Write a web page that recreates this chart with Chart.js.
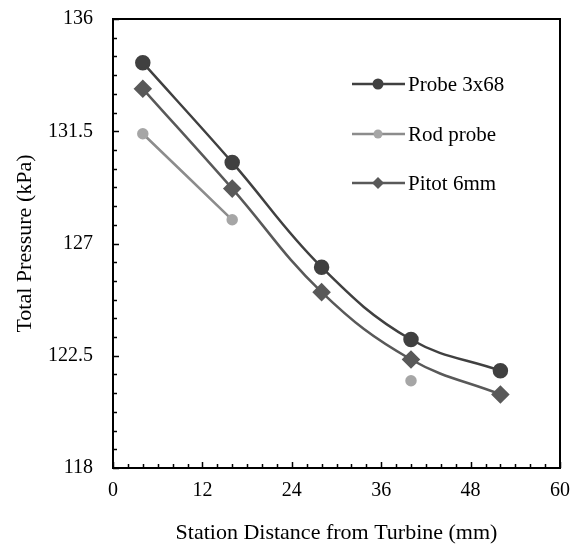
<!DOCTYPE html>
<html>
<head>
<meta charset="utf-8">
<script src="https://cdn.jsdelivr.net/npm/chart.js@4"></script>
<style>
  html, body { margin: 0; padding: 0; background: #fff; }
  #wrap { width: 578px; height: 546px; }
</style>
</head>
<body>
<div id="wrap"><canvas id="chart" width="578" height="546"></canvas></div>
<script>
const stations = [4, 16, 28, 40, 52];
const probe3x68 = [134.25, 130.25, 126.05, 123.15, 121.9];
const rodProbe = [131.4, 127.95, null, 121.5, null];
const pitot6mm = [133.2, 129.2, 125.05, 122.35, 120.95];
const seriesNames = ['Probe 3x68', 'Rod probe', 'Pitot 6mm'];

const FONT = 'Liberation Serif, "Times New Roman", serif';

function pairs(ys) {
    return stations.map((x, i) => ({ x: x, y: ys[i] }));
}

// inward tick marks, minor and major, plus the frame
const frameTicks = {
    id: 'frameTicks',
    afterDatasetsDraw(chart) {
        const ctx = chart.ctx;
        const a = chart.chartArea;
        const xs = chart.scales.x, ys = chart.scales.y;
        ctx.save();
        ctx.strokeStyle = '#000';
        ctx.lineWidth = 1.5;
        for (let v = 0; v <= 60; v += 2) {
            const px = Math.round(xs.getPixelForValue(v)) + 0.5;
            const len = v % 12 === 0 ? 6 : 4;
            ctx.beginPath();
            ctx.moveTo(px, a.bottom);
            ctx.lineTo(px, a.bottom - len);
            ctx.stroke();
        }
        for (let i = 0; i <= 24; i++) {
            const v = 118 + i * 0.75;
            const py = Math.round(ys.getPixelForValue(v)) + 0.5;
            const len = i % 6 === 0 ? 6 : 4;
            ctx.beginPath();
            ctx.moveTo(a.left, py);
            ctx.lineTo(a.left + len, py);
            ctx.stroke();
        }
        ctx.lineWidth = 2;
        ctx.strokeRect(a.left, a.top, a.right - a.left, a.bottom - a.top);
        ctx.restore();
    }
};

// legend drawn inside the plot, top right
const innerLegend = {
    id: 'innerLegend',
    afterDraw(chart) {
        const ctx = chart.ctx;
        const a = chart.chartArea;
        const x0 = a.left + 239, x1 = a.left + 292, mx = a.left + 265;
        const rows = [a.top + 65, a.top + 115, a.top + 164];
        ctx.save();
        chart.data.datasets.forEach((ds, i) => {
            const y = rows[i];
            ctx.strokeStyle = ds.borderColor;
            ctx.lineWidth = ds.borderWidth;
            ctx.beginPath();
            ctx.moveTo(x0, y);
            ctx.lineTo(x1, y);
            ctx.stroke();
            ctx.fillStyle = ds.pointBackgroundColor;
            ctx.beginPath();
            if (ds.pointStyle === 'rectRot') {
                const r = 6;
                ctx.moveTo(mx, y - r);
                ctx.lineTo(mx + r, y);
                ctx.lineTo(mx, y + r);
                ctx.lineTo(mx - r, y);
                ctx.closePath();
            } else {
                ctx.arc(mx, y, i === 0 ? 5.5 : 4.5, 0, Math.PI * 2);
            }
            ctx.fill();
            ctx.fillStyle = '#000';
            ctx.font = '21px ' + FONT;
            ctx.textBaseline = 'middle';
            ctx.textAlign = 'left';
            ctx.fillText(ds.label, x1 + 3, y + 1);
        });
        ctx.restore();
    }
};

new Chart(document.getElementById('chart'), {
    type: 'line',
    data: {
        datasets: [
            {
                label: seriesNames[0],
                data: pairs(probe3x68),
                borderColor: '#404040',
                backgroundColor: '#404040',
                pointBackgroundColor: '#404040',
                pointBorderColor: '#404040',
                borderWidth: 2.5,
                pointStyle: 'circle',
                pointRadius: 6.5,
                tension: 0.4
            },
            {
                label: seriesNames[1],
                data: pairs(rodProbe),
                borderColor: '#8c8c8c',
                backgroundColor: '#a6a6a6',
                pointBackgroundColor: '#a6a6a6',
                pointBorderColor: '#a6a6a6',
                borderWidth: 2.5,
                pointStyle: 'circle',
                pointRadius: 4.5,
                tension: 0.4
            },
            {
                label: seriesNames[2],
                data: pairs(pitot6mm),
                borderColor: '#595959',
                backgroundColor: '#595959',
                pointBackgroundColor: '#595959',
                pointBorderColor: '#595959',
                borderWidth: 2.5,
                pointStyle: 'rectRot',
                pointRadius: 7.5,
                tension: 0.4
            }
        ]
    },
    options: {
        responsive: false,
        animation: false,
        layout: { padding: { top: 19, right: 18, left: 0, bottom: 0 } },
        plugins: {
            legend: { display: false },
            tooltip: { enabled: false }
        },
        scales: {
            x: {
                type: 'linear',
                min: 0,
                max: 60,
                grid: { display: false, drawTicks: false },
                border: { display: false },
                ticks: {
                    stepSize: 12,
                    padding: 11,
                    color: '#000',
                    font: { family: FONT, size: 20 }
                },
                title: {
                    display: true,
                    text: 'Station Distance from Turbine (mm)',
                    color: '#000',
                    font: { family: FONT, size: 22 },
                    padding: { top: 10, bottom: 0 }
                },
                afterFit: s => {
                    s.height = 78;
                    s.paddingLeft = 0;
                    s.paddingRight = 0;
                }
            },
            y: {
                type: 'linear',
                min: 118,
                max: 136,
                grid: { display: false, drawTicks: false },
                border: { display: false },
                ticks: {
                    stepSize: 4.5,
                    padding: 20,
                    color: '#000',
                    font: { family: FONT, size: 20 }
                },
                title: {
                    display: true,
                    text: 'Total Pressure (kPa)',
                    color: '#000',
                    font: { family: FONT, size: 22 },
                    padding: { top: 12, bottom: 0 }
                },
                afterFit: s => {
                    s.width = 113;
                    s.paddingTop = 0;
                    s.paddingBottom = 0;
                }
            }
        }
    },
    plugins: [frameTicks, innerLegend]
});
</script>
</body>
</html>
